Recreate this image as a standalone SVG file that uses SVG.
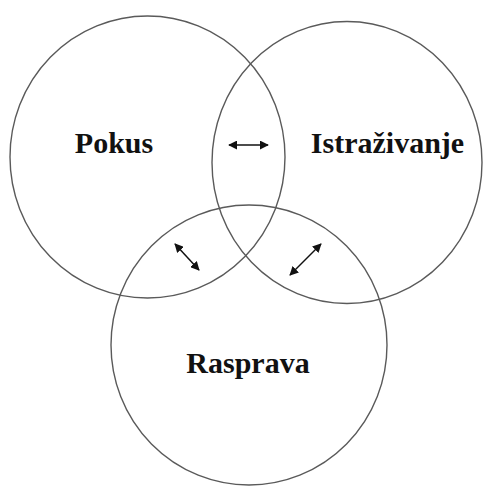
<svg xmlns="http://www.w3.org/2000/svg" width="483" height="487" viewBox="0 0 483 487">
<defs>
<style>
.c{fill:none;stroke:#5a5a5a;stroke-width:1.4}
.t{font-family:"Liberation Serif","Times New Roman",serif;font-weight:bold;font-size:30px;fill:#111}
.a{stroke:#111;stroke-width:1.5;marker-start:url(#h);marker-end:url(#h)}
</style>
<marker id="h" viewBox="0 0 10 10" refX="9" refY="5" markerWidth="6" markerHeight="6" orient="auto-start-reverse" markerUnits="strokeWidth">
<path d="M0,0 L10,5 L0,10 z" fill="#111"/>
</marker>
</defs>
<rect width="483" height="487" fill="#fff"/>
<g id="pokus">
<ellipse class="c" cx="147.5" cy="157" rx="137.5" ry="141"/>
<text class="t" x="114" y="153" text-anchor="middle">Pokus</text>
</g>
<g id="istrazivanje">
<ellipse class="c" cx="347" cy="162.5" rx="135" ry="141"/>
<text class="t" x="387.5" y="153" text-anchor="middle">Istraživanje</text>
</g>
<g id="rasprava">
<ellipse class="c" cx="249" cy="345" rx="138" ry="140"/>
<text class="t" x="248" y="373" text-anchor="middle">Rasprava</text>
</g>
<g id="connectors">
<line class="a" x1="229" y1="145" x2="268" y2="145"/>
<line class="a" x1="175" y1="244" x2="199" y2="270"/>
<line class="a" x1="321" y1="244" x2="290" y2="275"/>
</g>
</svg>
